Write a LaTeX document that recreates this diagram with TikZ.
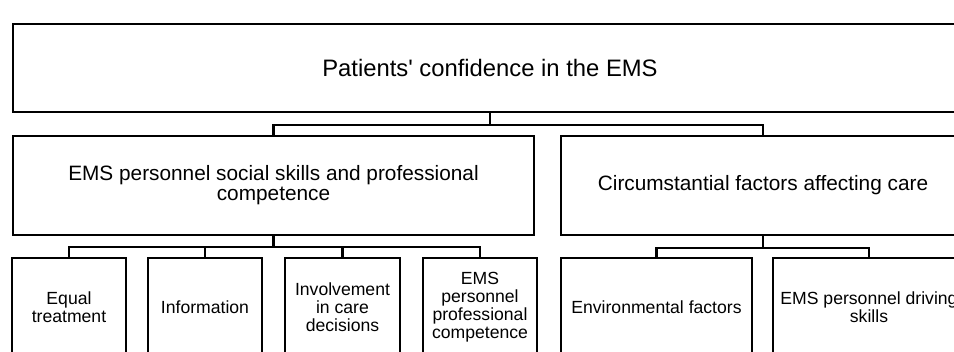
\documentclass[tikz,border=0pt]{standalone}
\usepackage{fontspec}
\setmainfont{Liberation Sans}
\tikzset{
	box/.style={draw, line width=2.2pt, inner sep=0pt, align=center},
	bigtext/.style={font=\fontsize{23.8}{24}\selectfont},
	midtext/.style={font=\fontsize{20.8}{20}\selectfont},
	smalltext/.style={font=\fontsize{17.6}{18}\selectfont},
	link/.style={line width=2.2pt}
}
\begin{document}
\begin{tikzpicture}[x=1pt,y=-1pt]
	\clip (0,0) rectangle (954,352);
	\fill[white] (0,0) rectangle (954,352);
	\path node (conf) at (490,68) [box,bigtext,minimum width=954pt,minimum height=88pt] {Patients\textquotesingle{} confidence in the EMS}
		  node (soc) at (273.5,185.5) [box,midtext,minimum width=521pt,minimum height=99pt] {EMS personnel social skills and professional\\competence}
		  node (circ) at (763,185.5) [box,midtext,minimum width=404pt,minimum height=99pt] {Circumstantial factors affecting care}
		  node (equal) at (69,307.5) [box,smalltext,minimum width=114pt,minimum height=99pt] {Equal\\treatment}
		  node (info) at (205,307.5) [box,smalltext,minimum width=114pt,minimum height=99pt] {Information}
		  node (involve) at (342.5,307.5) [box,smalltext,minimum width=115pt,minimum height=99pt] {Involvement\\in care\\decisions}
		  node (prof) at (480,307.5) [box,smalltext,minimum width=114pt,minimum height=99pt] {EMS\\personnel\\professional\\competence}
		  node (env) at (656.5,307.5) [box,smalltext,minimum width=191pt,minimum height=99pt] {Environmental factors}
		  node (drive) at (869,307.5) [box,smalltext,minimum width=192pt,minimum height=99pt] {EMS personnel driving\\skills};
	\draw [link] (conf.south) -- ++(0,12) coordinate (j0);
	\draw [link] (soc.north) |- (j0) -| (circ.north);
	\draw [link] (soc.south) -- ++(0,11) coordinate (j1);
	\draw [link] (equal.north) |- (j1) -| (prof.north);
	\draw [link] (info.north) -- (info.north |- j1);
	\draw [link] (involve.north) -- (involve.north |- j1);
	\draw [link] (circ.south) -- ++(0,12) coordinate (j2);
	\draw [link] (env.north) |- (j2) -| (drive.north);
\end{tikzpicture}
\end{document}
